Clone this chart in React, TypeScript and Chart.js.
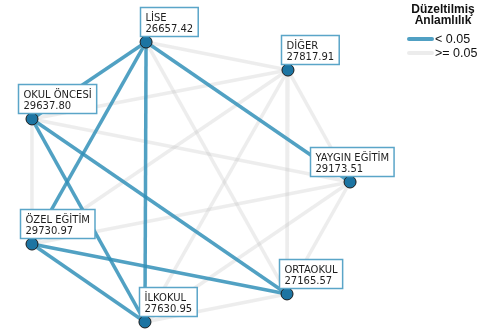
import React, { useEffect, useRef } from "react";
import { Chart, registerables } from "chart.js";

Chart.register(...registerables);

// ---- data ----
const groups = ["LİSE", "DİĞER", "YAYGIN EĞİTİM", "ORTAOKUL", "İLKOKUL", "ÖZEL EĞİTİM", "OKUL ÖNCESİ"];
const meanRanks = [26657.42, 27817.91, 29173.51, 27165.57, 27630.95, 29730.97, 29637.8];
// node layout coordinates (abstract network-layout units)
const layoutX = [-0.281, 0.606, 0.994, 0.6, -0.288, -0.994, -0.994];
const layoutY = [0.952, 0.76, -0.007, -0.774, -0.966, -0.432, 0.425];
// pairs with adjusted significance < 0.05
const significantPairs: [string, string][] = [
  ["LİSE", "OKUL ÖNCESİ"],
  ["LİSE", "ÖZEL EĞİTİM"],
  ["LİSE", "İLKOKUL"],
  ["LİSE", "YAYGIN EĞİTİM"],
  ["OKUL ÖNCESİ", "İLKOKUL"],
  ["OKUL ÖNCESİ", "ORTAOKUL"],
  ["ÖZEL EĞİTİM", "İLKOKUL"],
  ["ÖZEL EĞİTİM", "ORTAOKUL"],
];
const legendTitle = ["Düzeltilmiş", "Anlamlılık"];
const legendLabels = ["< 0.05", ">= 0.05"];

// ---- styles ----
const BLUE = "rgba(50,145,185,0.85)";
const GREY = "rgba(190,190,190,0.28)";
const NODE_FILL = "#1c74a2";
const BOX_BORDER = "#5aa5c8";
const labelDx = [-6, -7, -40, -8, -6, -12, -14];

const isSig = (a: string, b: string) =>
  significantPairs.some(([p, q]) => (p === a && q === b) || (p === b && q === a));

const labelPlugin = {
  id: "nodeLabels",
  afterDatasetsDraw(chart: any) {
    const ctx = chart.ctx as CanvasRenderingContext2D;
    const xs = chart.scales.x;
    const ys = chart.scales.y;
    ctx.save();
    ctx.font = '10px "DejaVu Sans"';
    groups.forEach((g, i) => {
      const px = xs.getPixelForValue(layoutX[i]);
      const py = ys.getPixelForValue(layoutY[i]);
      const l2 = meanRanks[i].toFixed(2);
      const w = Math.max(ctx.measureText(g).width, ctx.measureText(l2).width) + 10;
      const h = 29;
      const left = Math.round(px + labelDx[i]) + 0.5;
      const top = Math.round(py - 6 - h) + 0.5;
      ctx.fillStyle = "#ffffff";
      ctx.fillRect(left, top, w, h);
      ctx.strokeStyle = BOX_BORDER;
      ctx.lineWidth = 1.5;
      ctx.strokeRect(left, top, w, h);
      ctx.fillStyle = "#1e1e1e";
      ctx.textBaseline = "alphabetic";
      ctx.textAlign = "left";
      ctx.fillText(g, left + 5, top + 13);
      ctx.fillText(l2, left + 5, top + 24);
    });
    ctx.restore();
  },
};

const legendPlugin = {
  id: "sigLegend",
  afterDraw(chart: any) {
    const ctx = chart.ctx as CanvasRenderingContext2D;
    ctx.save();
    ctx.fillStyle = "#111";
    ctx.textAlign = "center";
    ctx.textBaseline = "middle";
    ctx.font = 'bold 12px "Liberation Sans"';
    ctx.fillText(legendTitle[0], 443, 10);
    ctx.fillText(legendTitle[1], 443, 21);
    ctx.lineWidth = 4;
    ctx.lineCap = "round";
    ctx.strokeStyle = "rgb(80,160,195)";
    ctx.beginPath();
    ctx.moveTo(409, 39);
    ctx.lineTo(432, 39);
    ctx.stroke();
    ctx.strokeStyle = "#ececec";
    ctx.beginPath();
    ctx.moveTo(409, 53);
    ctx.lineTo(432, 53);
    ctx.stroke();
    ctx.textAlign = "left";
    ctx.font = '12.5px "Liberation Sans"';
    ctx.fillText(legendLabels[0], 435, 40);
    ctx.fillText(legendLabels[1], 435, 54);
    ctx.restore();
  },
};

export default function App() {
  const ref = useRef<HTMLCanvasElement>(null);
  useEffect(() => {
    if (!ref.current) return;
    const nodePoints = groups.map((_, i) => ({ x: layoutX[i], y: layoutY[i] }));
    const blueEdges: any[] = [];
    const greyEdges: any[] = [];
    for (let i = 0; i < groups.length; i++) {
      for (let j = i + 1; j < groups.length; j++) {
        const sig = isSig(groups[i], groups[j]);
        const ds = {
          data: [
            { x: layoutX[i], y: layoutY[i] },
            { x: layoutX[j], y: layoutY[j] },
          ],
          showLine: true,
          borderColor: sig ? BLUE : GREY,
          borderWidth: 3.5,
          pointRadius: 0,
          fill: false,
          clip: false,
        };
        (sig ? blueEdges : greyEdges).push(ds);
      }
    }
    const chart = new Chart(ref.current, {
      type: "scatter",
      data: {
        datasets: [
          {
            data: nodePoints,
            pointRadius: 6,
            pointBackgroundColor: NODE_FILL,
            pointBorderColor: "#1a1a1a",
            pointBorderWidth: 1,
            showLine: false,
            clip: false,
          } as any,
          ...blueEdges,
          ...greyEdges,
        ],
      },
      options: {
        animation: false,
        responsive: false,
        events: [],
        layout: { padding: 0, autoPadding: false },
        plugins: { legend: { display: false }, tooltip: { enabled: false } },
        scales: {
          x: { type: "linear", display: false, min: -1.194, max: 1.8 },
          y: { type: "linear", display: false, min: -1.021, max: 1.24 },
        },
      },
      plugins: [labelPlugin, legendPlugin],
    });
    return () => chart.destroy();
  }, []);
  return (
    <div style={{ position: "absolute", left: 0, top: 0, width: 479, height: 330, background: "#fff" }}>
      <canvas ref={ref} width={479} height={330} />
    </div>
  );
}
